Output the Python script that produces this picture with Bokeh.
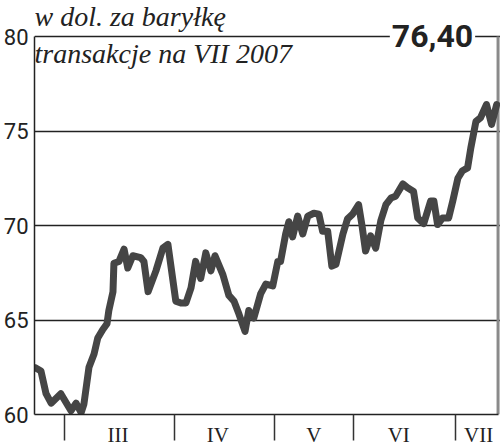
from bokeh.plotting import figure
from bokeh.models import Range1d, FixedTicker, Label
from bokeh.embed import file_html
from bokeh.resources import INLINE

# Session index (approx., 0 = late February 2007) and price in USD per barrel
days = [0, 1.3, 2.4, 3.5, 5.6, 7.8, 8.9, 10.0, 10.6, 11.7, 12.8, 13.6, 14.7, 15.6, 16.0,
        16.9, 17.1, 18.2, 19.3, 20.1, 21.2, 22.9, 23.6, 24.5, 26.2, 27.7, 28.8, 30.5,
        31.6, 32.7, 33.8, 34.8, 35.9, 37.0, 38.1, 39.0, 40.7, 42.0, 43.1, 44.2, 45.5,
        46.3, 47.4, 48.9, 50.0, 51.5, 52.6, 53.2, 54.3, 55.0, 55.8, 56.9, 58.0, 59.1,
        60.4, 61.5, 62.3, 63.4, 64.3, 65.2, 66.7, 67.7, 68.8, 70.1, 70.8, 71.6, 72.7,
        73.8, 74.9, 76.0, 77.1, 78.1, 79.7, 80.7, 82.0, 82.9, 84.2, 85.7, 86.4, 87.2,
        88.3, 89.6, 90.5, 91.6, 92.6, 93.7, 94.4, 95.5, 96.5, 97.8, 98.9, 100.0]
prices = [62.48, 62.3, 61.1, 60.6, 61.1, 60.2, 60.6, 60.1, 60.55, 62.5, 63.2, 64.05, 64.5,
          64.8, 65.5, 66.5, 68.0, 68.1, 68.75, 67.75, 68.4, 68.3, 68.1, 66.5, 67.6, 68.8,
          69.0, 66.0, 65.9, 65.9, 66.7, 68.1, 67.2, 68.55, 67.6, 68.4, 67.4, 66.3, 66.0,
          65.3, 64.4, 65.5, 65.1, 66.4, 66.9, 66.8, 68.1, 68.1, 69.55, 70.2, 69.4, 70.5,
          69.55, 70.5, 70.65, 70.6, 69.7, 69.7, 67.85, 67.95, 69.55, 70.35, 70.6, 71.1,
          70.05, 68.65, 69.45, 68.8, 70.25, 71.1, 71.45, 71.55, 72.2, 72.0, 71.8, 70.4,
          70.1, 71.3, 71.3, 70.05, 70.4, 70.4, 71.3, 72.5, 72.9, 73.05, 74.1, 75.5, 75.7,
          76.4, 75.35, 76.4]

month_bounds = [6.5, 30.3, 51.9, 69.0, 91.1]
month_centers = [18.0, 39.6, 60.4, 78.8, 96.1]
month_labels = ["III", "IV", "V", "VI", "VII"]
y_ticks = [60, 65, 70, 75, 80]
last_value = "76,40"
subtitle1 = "w dol. za baryłkę"
subtitle2 = "transakcje na VII 2007"

X0, X1, XR = -0.1, 100.83, 100.3     # frame start, frame end, right border
Y0, Y1 = 60, 81.905                  # frame spans also the header area above 80

p = figure(frame_width=466, frame_height=414, output_backend="svg", toolbar_location=None,
           x_range=Range1d(X0, X1), y_range=Range1d(Y0, Y1),
           min_border_left=34, min_border_right=0, min_border_top=0, min_border_bottom=34)

p.background_fill_color = "white"
p.border_fill_color = "white"
p.outline_line_color = None

p.xgrid.visible = False
p.ygrid.ticker = FixedTicker(ticks=y_ticks)
p.ygrid.bounds = (X0, XR)
p.ygrid.grid_line_color = "#222222"
p.ygrid.grid_line_width = 1.5
p.ygrid.grid_line_alpha = 1.0

# y axis (left border of the chart)
ya = p.yaxis[0]
ya.ticker = FixedTicker(ticks=y_ticks)
ya.bounds = (60, 80)
ya.major_tick_out = 0
ya.major_tick_in = 0
ya.minor_tick_out = 0
ya.minor_tick_in = 0
ya.axis_line_color = "#222222"
ya.axis_line_width = 1.5
ya.major_label_standoff = 6
ya.major_label_text_font = "Roboto"
ya.major_label_text_font_size = "22px"
ya.major_label_text_color = "#222222"

# x axis: month boundaries as ticks, month names centred between them
xa = p.xaxis[0]
xa.ticker = FixedTicker(ticks=month_centers, minor_ticks=month_bounds)
xa.major_label_overrides = {c: l for c, l in zip(month_centers, month_labels)}
xa.bounds = (X0, XR)
xa.major_tick_out = 0
xa.major_tick_in = 0
xa.minor_tick_out = 26
xa.minor_tick_in = 0
xa.minor_tick_line_color = "#333333"
xa.minor_tick_line_width = 1.5
xa.axis_line_color = "#222222"
xa.axis_line_width = 1.5
xa.major_label_standoff = -18
xa.major_label_text_font = "Liberation Serif"
xa.major_label_text_font_size = "21px"
xa.major_label_text_color = "#222222"

# right border in grey
p.segment(x0=[XR], y0=[Y0], x1=[XR], y1=[80], line_color="#8a8a8a", line_width=3)

p.line(days, prices, line_color="#454545", line_width=7, line_join="round", line_cap="round")

p.add_layout(Label(x=X0, y=81.9, text=subtitle1, text_font="Liberation Serif",
                   text_font_style="italic", text_font_size="28px", text_color="#222222",
                   text_baseline="top"))
p.add_layout(Label(x=X0, y=79.94, text=subtitle2, text_font="Liberation Serif",
                   text_font_style="italic", text_font_size="28px", text_color="#222222",
                   text_baseline="top"))
p.add_layout(Label(x=86.1, y=80.05, text=last_value, text_font="Roboto",
                   text_font_style="bold", text_font_size="32px", text_color="#222222",
                   text_align="center", text_baseline="middle",
                   background_fill_color="white", padding=(2, 12)))

open("out.html", "w").write(file_html(p, INLINE))
